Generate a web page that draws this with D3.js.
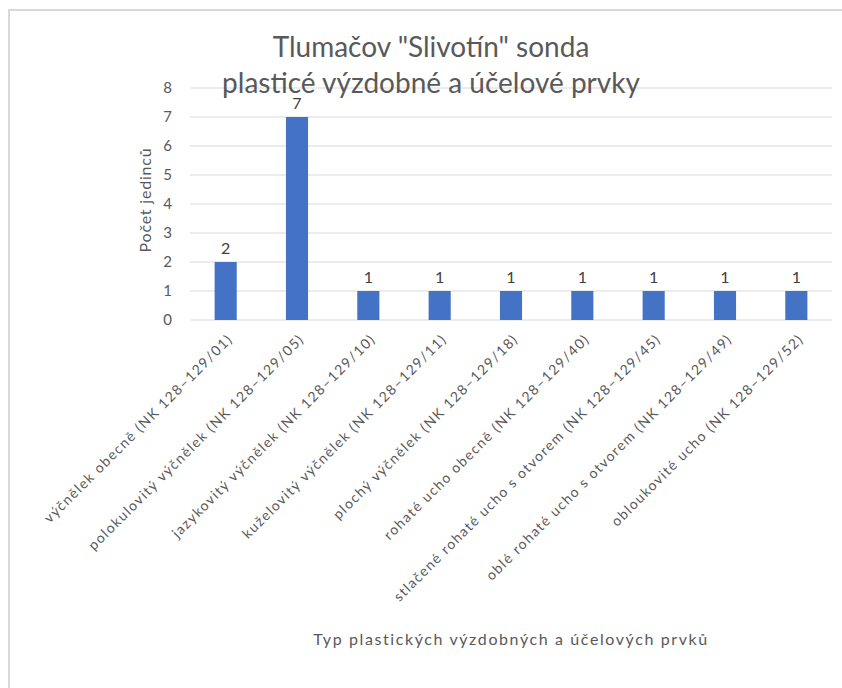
<!DOCTYPE html>
<html><head><meta charset="utf-8">
<script src="https://cdn.jsdelivr.net/npm/d3@7"></script>
<style>body{margin:0;background:#fff}svg{display:block}text{font-family:Lato,"Open Sans",sans-serif}</style>
</head><body>
<script>
const categories = [
  "výčnělek obecně (NK 128–129/01)",
  "polokulovitý výčnělek (NK 128–129/05)",
  "jazykovitý výčnělek (NK 128–129/10)",
  "kuželovitý výčnělek (NK 128–129/11)",
  "plochý výčnělek (NK 128–129/18)",
  "rohaté ucho obecně (NK 128–129/40)",
  "stlačené rohaté ucho s otvorem (NK 128–129/45)",
  "oblé rohaté ucho s otvorem (NK 128–129/49)",
  "obloukovité ucho (NK 128–129/52)"
];
const values = [2, 7, 1, 1, 1, 1, 1, 1, 1];
const yTicks = [0, 1, 2, 3, 4, 5, 6, 7, 8];
const titleLines = ["Tlumačov \"Slivotín\" sonda", "plasticé výzdobné a účelové prvky"];
const yTitle = "Počet jedinců";
const xTitle = "Typ  plastických výzdobných a účelových prvků";

(function () {
const W = 842, H = 688;
const svg = d3.select("body").append("svg").attr("width", W).attr("height", H);
svg.append("path").attr("d", `M9,${H} V10 H${W}`).attr("fill", "none").attr("stroke", "#d9d9d9").attr("stroke-width", 2);

const pl = 190, pr = 832, pt = 88, pb = 320;
const x = d3.scaleBand().domain(categories).range([pl, pr]).paddingInner(0.69).paddingOuter(0.345);
const y = d3.scaleLinear().domain([0, 8]).range([pb, pt]);

svg.append("g").selectAll("line").data(yTicks).join("line")
  .attr("x1", pl).attr("x2", pr).attr("y1", d => y(d)).attr("y2", d => y(d))
  .attr("stroke", "#d9d9d9").attr("stroke-width", 1);

const yAxis = d3.axisLeft(y).tickValues(yTicks).tickSize(0).tickPadding(0);
const gy = svg.append("g").attr("transform", `translate(${pl - 18},0)`).call(yAxis);
gy.select(".domain").remove();
gy.selectAll("text").attr("font-size", 15).attr("fill", "#595959").attr("font-family", "Lato,sans-serif");

svg.append("g").selectAll("rect").data(values).join("rect")
  .attr("x", (d, i) => x(categories[i])).attr("width", x.bandwidth())
  .attr("y", d => y(d)).attr("height", d => y(0) - y(d)).attr("fill", "#4472c4");

svg.append("g").selectAll("text").data(values).join("text")
  .attr("x", (d, i) => x(categories[i]) + x.bandwidth() / 2).attr("y", d => y(d) - 8)
  .attr("text-anchor", "middle").attr("font-size", 16).attr("fill", "#404040").text(d => d);

const xAxis = d3.axisBottom(x).tickSize(0).tickPadding(0);
const gx = svg.append("g").attr("transform", `translate(0,${pb})`).call(xAxis);
gx.select(".domain").remove();
gx.selectAll("text").attr("font-size", 14).attr("fill", "#595959").attr("font-family", "Lato,sans-serif")
  .attr("letter-spacing", 1.4)
  .attr("text-anchor", "end").attr("dy", null)
  .attr("transform", "translate(8,20) rotate(-45)");

svg.append("g").selectAll("text").data(titleLines).join("text")
  .attr("x", 431).attr("y", (d, i) => 57 + i * 36)
  .attr("text-anchor", "middle").attr("font-size", 28).attr("fill", "#595959").text(d => d);

svg.append("text").attr("transform", `translate(151,${(pt + pb) / 2 - 4}) rotate(-90)`)
  .attr("text-anchor", "middle").attr("font-size", 16).attr("letter-spacing", 0.8).attr("fill", "#595959").text(yTitle);

svg.append("text").attr("x", 511).attr("y", 645).attr("text-anchor", "middle")
  .attr("font-size", 16).attr("letter-spacing", 1.6).attr("fill", "#595959").text(xTitle);
})();
</script>
</body></html>
